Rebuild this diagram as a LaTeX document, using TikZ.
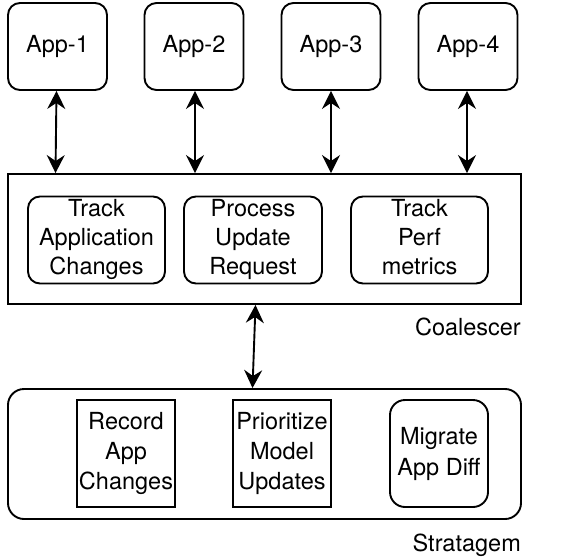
\documentclass[tikz,border=0pt]{standalone}
\usepackage{fontspec}
\setmainfont{TeX Gyre Heros}
\usetikzlibrary{arrows.meta}
\begin{document}
\begin{tikzpicture}[x=1pt,y=-1pt,
  lw/.style={line width=1.9pt},
  appbox/.style={lw,draw,rounded corners=12pt,minimum width=99pt,minimum height=87pt,inner sep=0pt,font=\fontsize{23.5}{28}\selectfont},
  rbox/.style={lw,draw,rounded corners=12pt,inner sep=0pt,align=center,font=\fontsize{23.5}{29}\selectfont},
  sbox/.style={lw,draw,inner sep=0pt,align=center,font=\fontsize{23.5}{30}\selectfont},
  lbl/.style={inner sep=0pt,anchor=east,font=\fontsize{23.5}{28}\selectfont},
  biarrow/.style={lw,{Stealth[length=18pt,width=18pt,inset=6pt]}-{Stealth[length=18pt,width=18pt,inset=6pt]}}
]
\useasboundingbox (0,0) rectangle (572,556);
% apps
\node[appbox] (a1) at (57.5,46.5) {App-1};
\node[appbox] (a2) at (194,46.5) {App-2};
\node[appbox] (a3) at (331,46.5) {App-3};
\node[appbox] (a4) at (468,46.5) {App-4};
% coalescer
\node[lw,draw,minimum width=513pt,minimum height=130pt,inner sep=0pt] (coal) at (264.5,239) {};
\node[rbox,minimum width=137pt,minimum height=86pt] (t1) at (96.5,240) {\strut Track\\\strut Application\\\strut Changes};
\node[rbox,minimum width=138pt,minimum height=86pt] (t2) at (253,240) {\strut Process\\\strut Update\\\strut Request};
\node[rbox,minimum width=137pt,minimum height=86pt] (t3) at (419.5,240) {\strut Track\\\strut Perf\\\strut metrics};
\node[lbl] (lc) at (521,327) {Coalescer};
% stratagem
\node[lw,draw,rounded corners=16pt,minimum width=513pt,minimum height=130pt,inner sep=0pt] (strat) at (264.5,454) {};
\node[sbox,minimum width=98pt,minimum height=107pt] (s1) at (126,453.5) {\strut Record\\\strut App\\\strut Changes};
\node[sbox,minimum width=98pt,minimum height=107pt] (s2) at (282,453.5) {\strut Prioritize\\\strut Model\\\strut Updates};
\node[rbox,rounded corners=15pt,minimum width=98pt,minimum height=107pt,font=\fontsize{23.5}{31}\selectfont] (s3) at (439,453.5) {\strut Migrate\\\strut App Diff};
\node[lbl] (ls) at (521,545) {Stratagem};
% arrows
\draw[biarrow] ([xshift=-1pt]a1.south) -- ([xshift=-2pt]a1.south |- coal.north);
\draw[biarrow] ([xshift=1pt]a2.south) -- ([xshift=1pt]a2.south |- coal.north);
\draw[biarrow] (a3.south) -- (a3.south |- coal.north);
\draw[biarrow] ([xshift=-1pt]a4.south) -- ([xshift=-1pt]a4.south |- coal.north);
\draw[biarrow] ([xshift=-9pt]coal.south) -- ([xshift=-12pt]strat.north);
\end{tikzpicture}
\end{document}
